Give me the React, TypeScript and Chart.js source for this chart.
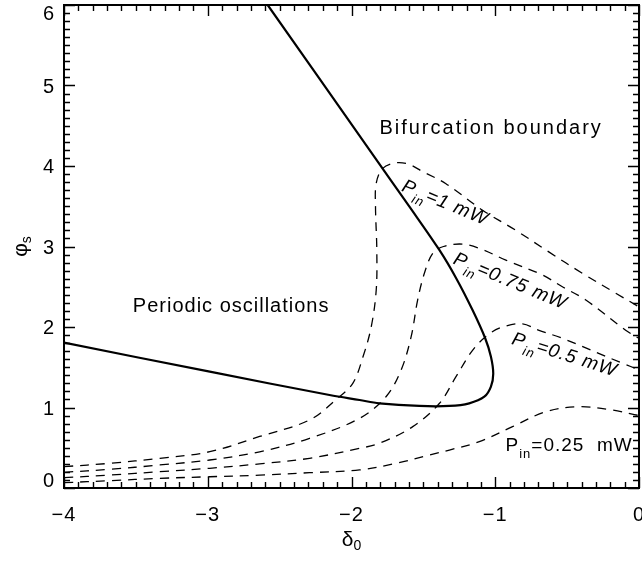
import { useEffect, useRef } from "react";
import { Chart, registerables } from "chart.js";

Chart.register(...registerables);

// ---------- data ----------
const xTickValues = [-4, -3, -2, -1, 0];
const xTickLabels = ["−4", "−3", "−2", "−1", "0"];
const yTickValues = [0, 1, 2, 3, 4, 5, 6];
const yTickLabels = ["0", "1", "2", "3", "4", "5", "6"];

const boundaryX = [-2.583, -1.875, -1.597, -1.389, -1.27, -1.158, -1.07, -1.03, -1.014, -1.03, -1.076, -1.181, -1.319, -1.528, -1.806, -1.944, -2.153, -2.986, -4];
const boundaryY = [6.0, 4.2, 3.495, 2.957, 2.6, 2.21, 1.86, 1.63, 1.42, 1.26, 1.134, 1.052, 1.019, 1.019, 1.052, 1.093, 1.155, 1.445, 1.805];

const p100X = [-4, -3.68, -3.333, -2.986, -2.639, -2.292, -2.1, -1.991, -1.92, -1.863, -1.828, -1.824, -1.833, -1.828, -1.783, -1.69, -1.6, -1.505, -1.343, -1.088, -0.856, -0.625, -0.394, -0.162, 0];
const p100Y = [0.265, 0.307, 0.369, 0.451, 0.64, 0.845, 1.11, 1.3, 1.63, 2.0, 2.46, 2.96, 3.49, 3.785, 3.97, 4.04, 4.02, 3.93, 3.78, 3.45, 3.2, 2.93, 2.667, 2.42, 2.25];

const p075X = [-4, -3.68, -3.333, -2.986, -2.639, -2.292, -1.944, -1.76, -1.655, -1.585, -1.54, -1.493, -1.435, -1.36, -1.227, -1.1, -0.926, -0.672, -0.533, -0.37, -0.093, 0];
const p075Y = [0.195, 0.232, 0.286, 0.348, 0.45, 0.617, 0.865, 1.134, 1.466, 1.88, 2.335, 2.667, 2.915, 3.0, 3.03, 2.97, 2.83, 2.646, 2.5, 2.335, 1.96, 1.86];

const p050X = [-4, -3.68, -3.333, -2.986, -2.639, -2.292, -1.944, -1.806, -1.574, -1.389, -1.273, -1.158, -1.053, -0.949, -0.81, -0.7, -0.533, -0.116, 0];
const p050Y = [0.128, 0.161, 0.203, 0.245, 0.3, 0.369, 0.493, 0.555, 0.762, 1.05, 1.383, 1.71, 1.9, 2.0, 2.04, 1.96, 1.86, 1.55, 1.47];

const p025X = [-4, -3.68, -3.333, -2.986, -2.639, -2.292, -1.944, -1.69, -1.458, -1.319, -1.111, -0.88, -0.648, -0.417, -0.185, 0];
const p025Y = [0.066, 0.091, 0.12, 0.14, 0.16, 0.19, 0.224, 0.307, 0.41, 0.472, 0.575, 0.762, 0.948, 1.01, 0.969, 0.9];

const regionTexts = ["Bifurcation boundary", "Periodic oscillations"];
const regionTextX = [-1.806, -3.521];
const regionTextY = [4.485, 2.27];

const powerTexts = ["=1 mW", "=0.75 mW", "=0.5 mW", "=0.25  mW"];
const powerTextX = [-1.344, -0.892, -0.514, -0.486];
const powerTextY = [3.559, 2.584, 1.671, 0.547];
const powerTextAngle = [22.5, 22.5, 17.5, 0];

// ---------- helpers ----------
const FONT = '"Liberation Sans", Arial, sans-serif';

const pts = (xs: number[], ys: number[]) => xs.map((x, i) => ({ x, y: ys[i] }));

type Seg = { t: string; size: number; dy: number };

function drawRich(ctx: CanvasRenderingContext2D, segs: Seg[], cx: number, cy: number, angleDeg: number, italic: boolean, spacing: number, align: "center" | "left") {
  ctx.save();
  ctx.translate(cx, cy);
  ctx.rotate((angleDeg * Math.PI) / 180);
  (ctx as any).letterSpacing = spacing + "px";
  ctx.textAlign = "left";
  ctx.textBaseline = "alphabetic";
  const widths = segs.map((s) => {
    ctx.font = `${italic ? "italic " : ""}${s.size}px ${FONT}`;
    return ctx.measureText(s.t).width;
  });
  const total = widths.reduce((a, b) => a + b, 0);
  let xx = align === "center" ? -total / 2 : 0;
  segs.forEach((s, i) => {
    ctx.font = `${italic ? "italic " : ""}${s.size}px ${FONT}`;
    ctx.fillText(s.t, xx, s.dy);
    xx += widths[i];
  });
  ctx.restore();
}

const idlPlugin = {
  id: "idlFrame",
  afterDatasetsDraw(chart: any) {
    const { ctx, chartArea: a, scales } = chart;
    const xs = scales.x;
    const ys = scales.y;
    ctx.save();
    ctx.strokeStyle = "#000";
    ctx.fillStyle = "#000";
    ctx.lineWidth = 2;
    ctx.strokeRect(a.left, a.top, a.right - a.left, a.bottom - a.top);

    // ticks (major every 1, minor every 0.1), inward on all sides
    ctx.lineWidth = 1.4;
    ctx.beginPath();
    for (let i = 0; i <= 40; i++) {
      const v = xs.min + i * 0.1;
      const len = i % 10 === 0 ? 11 : 6;
      const px = Math.round(xs.getPixelForValue(v)) + 0.5;
      ctx.moveTo(px, a.bottom);
      ctx.lineTo(px, a.bottom - len);
      ctx.moveTo(px, a.top);
      ctx.lineTo(px, a.top + len);
    }
    for (let i = 0; i <= 60; i++) {
      const v = ys.min + i * 0.1;
      const len = i % 10 === 0 ? 11 : 6;
      const py = Math.round(ys.getPixelForValue(v)) + 0.5;
      ctx.moveTo(a.left, py);
      ctx.lineTo(a.left + len, py);
      ctx.moveTo(a.right, py);
      ctx.lineTo(a.right - len, py);
    }
    ctx.stroke();

    // tick labels
    ctx.font = `20px ${FONT}`;
    (ctx as any).letterSpacing = "1px";
    ctx.textBaseline = "middle";
    ctx.textAlign = "center";
    xTickValues.forEach((v, i) => {
      ctx.fillText(xTickLabels[i], xs.getPixelForValue(v), a.bottom + 27);
    });
    ctx.textAlign = "right";
    yTickValues.forEach((v, i) => {
      let py = ys.getPixelForValue(v) + 1.5;
      py = Math.max(a.top + 9, Math.min(a.bottom - 7, py));
      ctx.fillText(yTickLabels[i], a.left - 9, py);
    });
    (ctx as any).letterSpacing = "0px";

    // axis titles
    const midX = (a.left + a.right) / 2;
    const midY = (a.top + a.bottom) / 2;
    drawRich(ctx, [{ t: "δ", size: 21, dy: 6 }, { t: "0", size: 14, dy: 10 }], midX, a.bottom + 52, 0, false, 0, "center");
    drawRich(ctx, [{ t: "φ", size: 21, dy: 6 }, { t: "s", size: 14, dy: 10 }], 21, midY, -90, false, 0, "center");

    // region texts
    regionTexts.forEach((t, i) => {
      drawRich(ctx, [{ t, size: 20, dy: 7 }], xs.getPixelForValue(regionTextX[i]), ys.getPixelForValue(regionTextY[i]), 0, false, i === 0 ? 2 : 1, "left");
    });

    // power labels
    powerTexts.forEach((t, i) => {
      const italic = powerTextAngle[i] !== 0;
      drawRich(
        ctx,
        [
          { t: "P", size: 19, dy: 7 },
          { t: "in", size: 13, dy: 14 },
          { t, size: 19, dy: 7 },
        ],
        xs.getPixelForValue(powerTextX[i]),
        ys.getPixelForValue(powerTextY[i]),
        powerTextAngle[i],
        italic,
        1,
        "center"
      );
    });
    ctx.restore();
  },
};

export default function App() {
  const ref = useRef<HTMLCanvasElement | null>(null);
  useEffect(() => {
    if (!ref.current) return;
    const dashed = (xs: number[], ys: number[]) => ({
      data: pts(xs, ys),
      showLine: true,
      borderColor: "#000",
      borderWidth: 1.3,
      borderDash: [9, 7],
      pointRadius: 0,
      tension: 0.35,
      fill: false,
    });
    const chart = new Chart(ref.current, {
      type: "scatter",
      data: {
        datasets: [
          {
            data: pts(boundaryX, boundaryY),
            showLine: true,
            borderColor: "#000",
            borderWidth: 2.2,
            pointRadius: 0,
            tension: 0.35,
            fill: false,
          },
          dashed(p100X, p100Y),
          dashed(p075X, p075Y),
          dashed(p050X, p050Y),
          dashed(p025X, p025Y),
        ] as any,
      },
      options: {
        animation: false,
        responsive: false,
        devicePixelRatio: 1,
        layout: { padding: { left: 64, top: 5, right: 3, bottom: 73 } },
        plugins: { legend: { display: false }, tooltip: { enabled: false } },
        scales: {
          x: { type: "linear", min: -4, max: 0, display: false },
          y: { type: "linear", min: 0, max: 6, display: false },
        },
      },
      plugins: [idlPlugin],
    });
    return () => chart.destroy();
  }, []);
  return (
    <div style={{ position: "absolute", left: 0, top: 0, width: 642, height: 561, background: "#fff" }}>
      <canvas ref={ref} width={642} height={561} />
    </div>
  );
}
